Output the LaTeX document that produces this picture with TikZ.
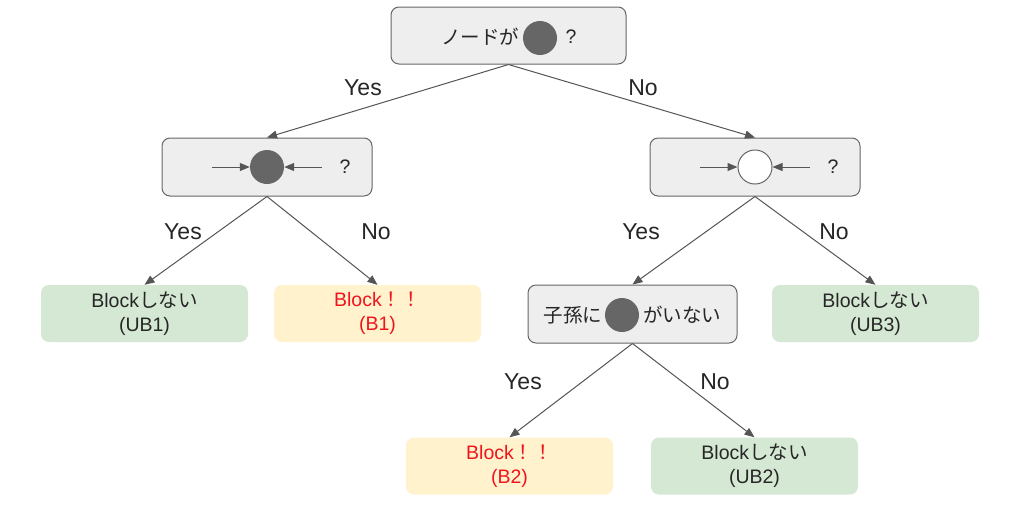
\documentclass[tikz,border=0pt]{standalone}
\usepackage{fontspec}
\setmainfont{Liberation Sans}
\newfontfamily\jp{Noto Sans CJK JP}
\usetikzlibrary{arrows.meta}
\definecolor{boxgray}{HTML}{EEEEEE}
\definecolor{boxline}{HTML}{666666}
\definecolor{edgec}{HTML}{555555}
\definecolor{okgreen}{HTML}{D5E8D4}
\definecolor{warnyel}{HTML}{FFF2CC}
\definecolor{redtxt}{HTML}{F0141E}
\begin{document}
\begin{tikzpicture}[x=1pt,y=-1pt,
  qbox/.style={draw=boxline, line width=1pt, fill=boxgray, rounded corners=8pt, inner sep=0pt},
  okbox/.style={fill=okgreen, rounded corners=8pt, inner sep=0pt, minimum width=207pt, minimum height=57pt,
     align=center, font=\fontsize{19.5}{24}\selectfont, text=black!85},
  ngbox/.style={fill=warnyel, rounded corners=8pt, inner sep=0pt, minimum width=207pt, minimum height=57pt,
     align=center, font=\fontsize{19.5}{24}\selectfont, text=redtxt},
  txt/.style={inner sep=0pt, font=\fontsize{19.5}{22}\selectfont, text=black!85},
  dot/.style={circle, fill=boxline, inner sep=0pt, minimum size=34pt},
  wdot/.style={circle, draw=boxline, line width=1pt, fill=white, inner sep=0pt, minimum size=34pt},
  edge/.style={draw=edgec, line width=1pt, -{Triangle[length=10pt,width=8pt]}},
  inarr/.style={draw=edgec, line width=1pt, -{Triangle[length=10pt,width=8pt]}},
  lbl/.style={inner sep=0pt, font=\fontsize{23}{26}\selectfont, text=black!85}
]
\useasboundingbox (0,0) rectangle (1024,523);
\fill[white] (0,0) rectangle (1024,523);

% top question
\node[qbox, minimum width=235pt, minimum height=57pt] (top) at (508.5,35.5) {};
\node[txt] (topt) at (480,37) {\jp ノードが};
\node[dot] (topc) at (540,38) {};
\node[txt] (topq) at (571,37) {?};

% left question
\node[qbox, minimum width=210pt, minimum height=58pt] (lq) at (267,167) {};
\node[dot] (lqc) at (267,167) {};
\coordinate (lqa) at (212,167);
\coordinate (lqb) at (322,167);
\draw[inarr] (lqa) -- (lqc.west);
\draw[inarr] (lqb) -- (lqc.east);
\node[txt] (lqq) at (345,167) {?};

% right question
\node[qbox, minimum width=210pt, minimum height=58pt] (rq) at (755,167) {};
\node[wdot] (rqc) at (755,167) {};
\coordinate (rqa) at (700,167);
\coordinate (rqb) at (810,167);
\draw[inarr] (rqa) -- (rqc.west);
\draw[inarr] (rqb) -- (rqc.east);
\node[txt] (rqq) at (833,167) {?};

% third question
\node[qbox, minimum width=209pt, minimum height=58pt] (dq) at (632.5,314) {};
\node[txt] (dqt1) at (573,315) {\jp 子孫に};
\node[dot] (dqc) at (622,315) {};
\node[txt] (dqt2) at (682,315) {\jp がいない};

% leaves
\node[okbox] (ub1) at (144.5,313.5) {Block{\jp しない}\\(UB1)};
\node[ngbox] (b1) at (377.5,313.5) {Block{\jp ！！}\\(B1)};
\node[okbox] (ub3) at (875.5,313.5) {Block{\jp しない}\\(UB3)};
\node[ngbox] (b2) at (509.5,466) {Block{\jp ！！}\\(B2)};
\node[okbox] (ub2) at (754.5,466) {Block{\jp しない}\\(UB2)};

% edges
\draw[edge] (top.south) -- (lq.north);
\draw[edge] (top.south) -- (rq.north);
\draw[edge] (lq.south) -- (ub1.north);
\draw[edge] (lq.south) -- (b1.north);
\draw[edge] (rq.south) -- (dq.north);
\draw[edge] (rq.south) -- (ub3.north);
\draw[edge] (dq.south) -- (b2.north);
\draw[edge] (dq.south) -- (ub2.north);

% edge labels
\node[lbl] (l1) at (363,88) {Yes};
\node[lbl] (l2) at (643,88) {No};
\node[lbl] (l3) at (183,232) {Yes};
\node[lbl] (l4) at (376,232) {No};
\node[lbl] (l5) at (641,232) {Yes};
\node[lbl] (l6) at (834,232) {No};
\node[lbl] (l7) at (523,382) {Yes};
\node[lbl] (l8) at (715,382) {No};
\end{tikzpicture}
\end{document}
